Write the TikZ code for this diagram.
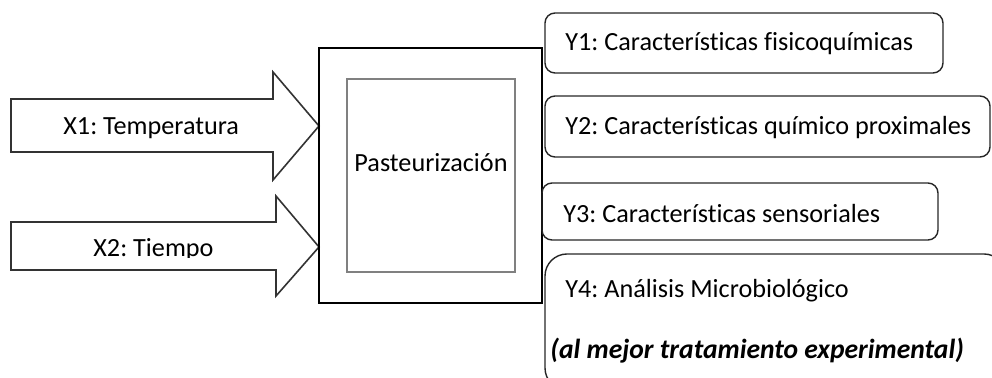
\documentclass[tikz,border=0pt]{standalone}
\usepackage{fontspec}
\setmainfont[Ligatures={NoCommon}]{Carlito}
\usetikzlibrary{calc}
\frenchspacing

\tikzset{
	texto/.style={anchor=base west, inner sep=0pt, font=\fontsize{13.1}{15}\selectfont},
	flecha/.style={line width=0.8pt, draw=black!80, fill=white, line join=miter},
	caja/.style={line width=0.7pt, draw=black!85, rounded corners=5pt},
	cajagris/.style={line width=1pt, draw=black!50},
}

\begin{document}
\begin{tikzpicture}[x=0.5pt, y=-0.5pt]
			%%%%% START %%%%%
			\useasboundingbox (0, 0) rectangle (992, 378);
			\clip (0, 0) rectangle (992, 378);
			
			% entradas
			\draw[flecha] (11, 99) -- (273, 99) -- (273, 72) -- (319, 126) -- (273, 180) -- (273, 152) -- (11, 152) -- cycle;
			\node[texto] (x1) at (63, 135) {X1: Temperatura};
			
			\draw[flecha] (11, 222) -- (276, 222) -- (276, 196) -- (319, 247) -- (276, 296) -- (276, 270) -- (11, 270) -- cycle;
			\begin{scope}
				\clip (0, 200) rectangle (276, 258);
				\node[texto] (x2) at (93, 257) {X2: Tiempo};
			\end{scope}
			
			% proceso
			\draw[line width=0.7pt] (319, 48) rectangle (542, 303);
			\draw[cajagris] (347, 79) rectangle (515, 272);
			\node[texto, anchor=base] (pasteur) at (431, 172) {Pasteurización};
			
			% salidas
			\draw[caja] (545, 13) rectangle (943, 73);
			\node[texto] (y1) at (565, 51) {Y1: Características fisicoquímicas};
			
			\draw[caja] (545, 96) rectangle (990, 157);
			\node[texto] (y2) at (565, 135) {Y2: Características químico proximales};
			
			\draw[caja] (542, 183) rectangle (938, 240);
			\node[texto] (y3) at (563, 223) {Y3: Características sensoriales};
			
			\draw[caja, rounded corners=11pt] (545, 254) rectangle (1006, 390);
			\node[texto] (y4) at (565, 298) {Y4: Análisis Microbiológico};
			\node[texto, font=\fontsize{13.8}{15}\selectfont\bfseries\itshape] (y4b) at (550, 359) {(al mejor tratamiento experimental)};
			
			%%%%% END %%%%%
\end{tikzpicture}
\end{document}
